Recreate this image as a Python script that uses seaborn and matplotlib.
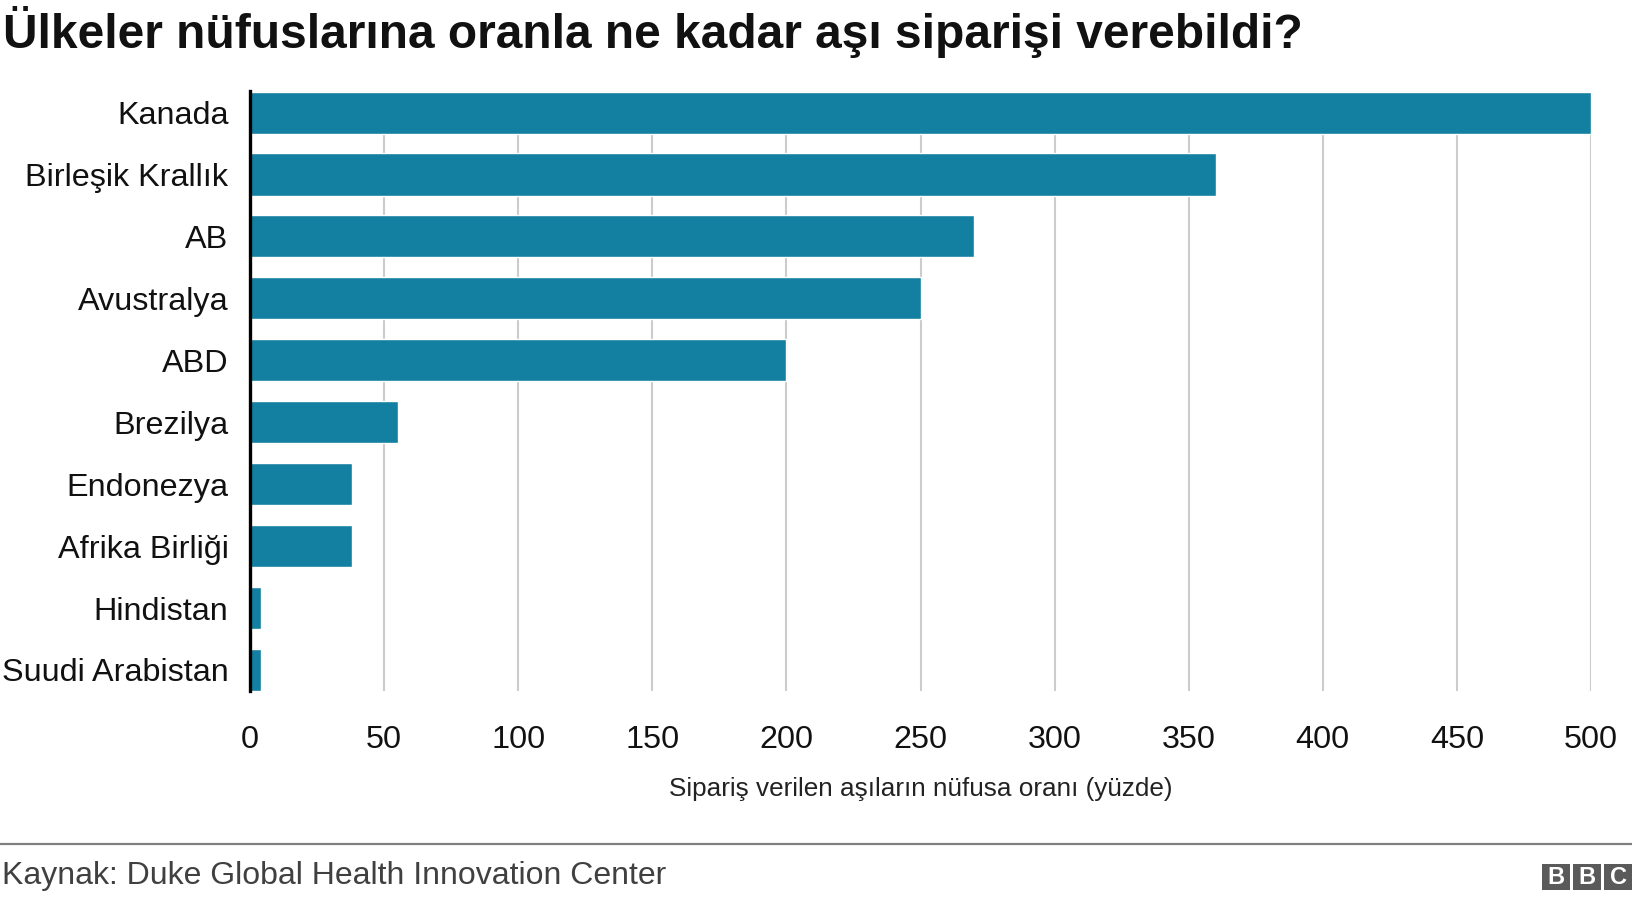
import matplotlib
matplotlib.use("Agg")
import matplotlib.pyplot as plt
from matplotlib.patches import Rectangle
from matplotlib.lines import Line2D
import seaborn as sns
import pandas as pd

countries = ["Kanada", "Birleşik Krallık", "AB", "Avustralya", "ABD",
             "Brezilya", "Endonezya", "Afrika Birliği", "Hindistan", "Suudi Arabistan"]
values = [500, 360, 270, 250, 200, 55, 38, 38, 4, 4]
xticks = [0, 50, 100, 150, 200, 250, 300, 350, 400, 450, 500]

title = "Ülkeler nüfuslarına oranla ne kadar aşı siparişi verebildi?"
xlabel = "Sipariş verilen aşıların nüfusa oranı (yüzde)"
source = "Kaynak: Duke Global Health Innovation Center"

sns.set_theme(style="white")
plt.rcParams["font.family"] = ["Liberation Sans", "DejaVu Sans"]

W, H = 1632, 900
fig = plt.figure(figsize=(W / 100, H / 100), dpi=100)
left, right, top, bottom = 250, 1591, 91.5, 691
ax = fig.add_axes([left / W, 1 - bottom / H, (right - left) / W, (bottom - top) / H])

df = pd.DataFrame({"country": countries, "value": values})
sns.barplot(data=df, x="value", y="country", orient="h", color="#1380A1",
            saturation=1, width=0.68, ax=ax, zorder=3)

ax.set_xlim(0, 500)
ax.set_ylim(len(countries) - 0.5 - 0.16, -0.5 + 0.16)
ax.set_xticks(xticks)
ax.set_xticklabels([str(t) for t in xticks])
ax.grid(axis="x", color="#cccccc", linewidth=1.5, zorder=0)
ax.grid(axis="y", visible=False)
for s in ["top", "right", "bottom"]:
    ax.spines[s].set_visible(False)
ax.spines["left"].set_color("black")
ax.spines["left"].set_linewidth(2.4)
ax.spines["left"].set_zorder(5)
ax.tick_params(axis="x", length=0, pad=24.5, labelsize=23.3, labelcolor="#111111")
ax.tick_params(axis="y", length=0, pad=15.5, labelsize=23.3, labelcolor="#111111")
ax.set_ylabel("")
ax.set_xlabel(xlabel, fontsize=18.8, color="#222222")
ax.xaxis.label.set_va("baseline")
ax.xaxis.set_label_coords(0.5, (bottom - 796) / (bottom - top))

fig.text(3 / W, 1 - 48 / H, title, fontsize=34.5, fontweight="bold",
         color="#111111", va="baseline", ha="left")
fig.text(2 / W, 1 - 884 / H, source, fontsize=23, color="#404040",
         va="baseline", ha="left")
fig.add_artist(Line2D([0, 1], [1 - 844 / H, 1 - 844 / H], transform=fig.transFigure,
                      color="#7f7f7f", linewidth=1.6))

for i, letter in enumerate("BBC"):
    x0 = 1542 + i * 31.2
    fig.add_artist(Rectangle((x0 / W, 1 - 890 / H), 27.5 / W, 26 / H,
                             transform=fig.transFigure, color="#5a5a5a", lw=0))
    fig.text((x0 + 13.75) / W, 1 - 877 / H, letter, fontsize=17, fontweight="bold",
             color="white", ha="center", va="center")

fig.savefig("out.png", dpi=100)
